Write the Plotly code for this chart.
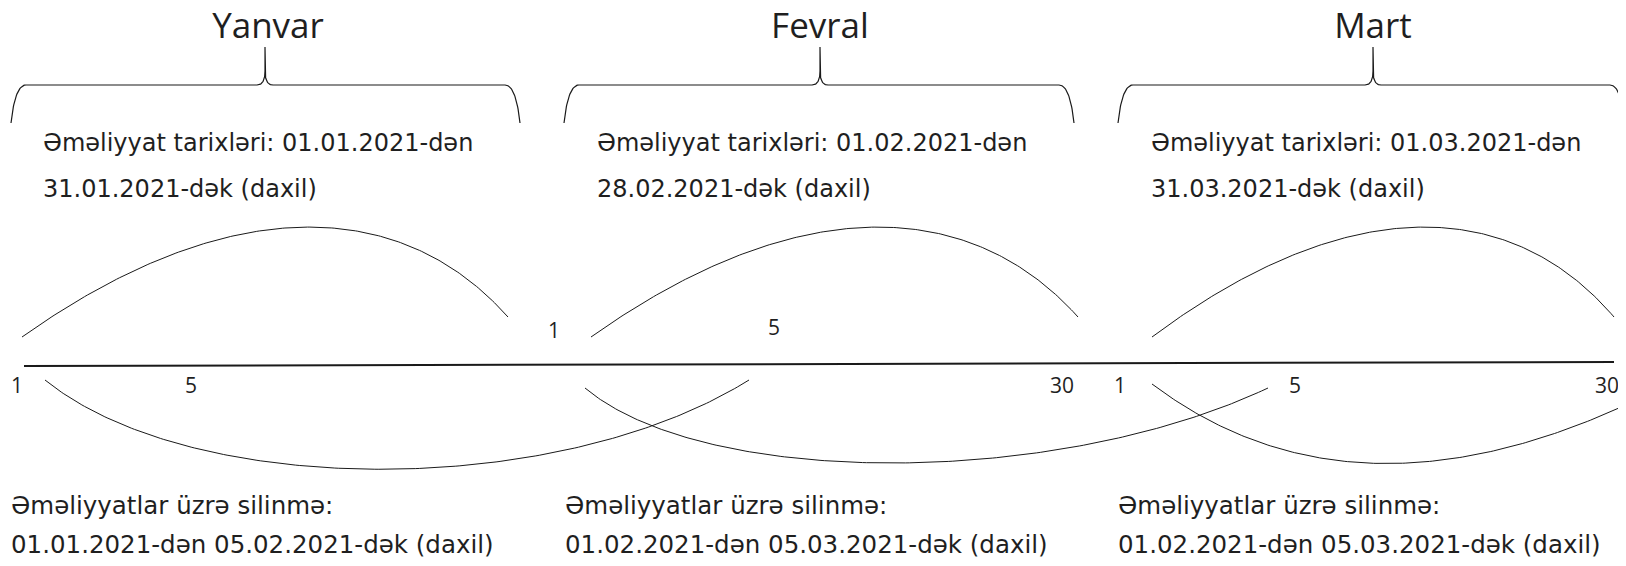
import numpy as np
import plotly.graph_objects as go

# ---------------- content (values / texts) ----------------
MONTHS = ["Yanvar", "Fevral", "Mart"]
OPERATION_LINE1 = [
    "Əməliyyat tarixləri: 01.01.2021-dən",
    "Əməliyyat tarixləri: 01.02.2021-dən",
    "Əməliyyat tarixləri: 01.03.2021-dən",
]
OPERATION_LINE2 = [
    "31.01.2021-dək (daxil)",
    "28.02.2021-dək (daxil)",
    "31.03.2021-dək (daxil)",
]
DELETION_LINE1 = ["Əməliyyatlar üzrə silinmə:"] * 3
DELETION_LINE2 = [
    "01.01.2021-dən 05.02.2021-dək (daxil)",
    "01.02.2021-dən 05.03.2021-dək (daxil)",
    "01.02.2021-dən 05.03.2021-dək (daxil)",
]
DAY_LABELS = ["1", "5", "1", "5", "30", "1", "5", "30"]

# ---------------- layout geometry (canvas pixel coordinates) ----------------
W, H = 1626, 566
PAGE_MARGIN = 8          # default <body> margin of the written page
TEXT_COLOR = "#1f1f1f"
LINE_COLOR = "#1a1a1a"

title_x = [268, 820, 1373]
title_y = 29
brace_left = [11, 564, 1118]
brace_right = [520, 1074, 1625]
brace_mid = [265, 820, 1373]
brace_top, brace_bottom, brace_tip = 85, 123, 47

op_text_x = [43, 597, 1151]
op_text_y = [145, 191]
del_text_x = [11, 565, 1118]
del_text_y = [508, 547]

day_x = [17, 191, 554, 774, 1062, 1120, 1295, 1607]
day_y = [388, 388, 333, 330, 388, 388, 388, 388]

timeline_x = [24, 1614]
timeline_y = [366, 362]

# cubic Bezier control points for the arcs: (x0,y0,x1,y1,x2,y2,x3,y3)
upper_arcs = [
    (22, 337, 222, 195, 398, 193, 508, 317),
    (591, 337, 791, 195, 967, 193, 1078, 317),
    (1152, 337, 1342, 195, 1508, 193, 1614, 317),
]
lower_arcs = [
    (45, 380, 192, 499, 559, 499, 749, 380),
    (585, 388, 704, 488, 1056, 488, 1268, 388),
    (1152, 384, 1294, 491, 1470, 491, 1680, 378),
]


def bezier(p, n=200):
    x0, y0, x1, y1, x2, y2, x3, y3 = p
    t = np.linspace(0, 1, n)
    a, b, c, d = (1 - t) ** 3, 3 * (1 - t) ** 2 * t, 3 * (1 - t) * t ** 2, t ** 3
    return a * x0 + b * x1 + c * x2 + d * x3, a * y0 + b * y1 + c * y2 + d * y3


def quad(p0, p1, p2, n=30):
    t = np.linspace(0, 1, n)
    x = (1 - t) ** 2 * p0[0] + 2 * (1 - t) * t * p1[0] + t ** 2 * p2[0]
    y = (1 - t) ** 2 * p0[1] + 2 * (1 - t) * t * p1[1] + t ** 2 * p2[1]
    return list(x), list(y)


def brace(L, R, C):
    xs, ys = [], []
    for seg in [
        quad((L, brace_bottom), (L + 4, brace_top), (L + 15, brace_top)),
        quad((C - 8, brace_top), (C, brace_top), (C, brace_top - 14)),
        ([C, C], [brace_top - 14, brace_tip]),
        quad((C, brace_tip), (C, brace_tip), (C, brace_top - 14)),
        quad((C, brace_top - 14), (C, brace_top), (C + 8, brace_top)),
        quad((R - 15, brace_top), (R - 4, brace_top), (R, brace_bottom)),
    ]:
        xs += list(seg[0])
        ys += list(seg[1])
    return xs, ys


fig = go.Figure()

# braces
for L, R, C in zip(brace_left, brace_right, brace_mid):
    bx, by = brace(L, R, C)
    fig.add_trace(go.Scatter(x=bx, y=by, mode="lines",
                             line=dict(color=LINE_COLOR, width=1.2),
                             hoverinfo="skip", showlegend=False))

# timeline
fig.add_trace(go.Scatter(x=timeline_x, y=timeline_y, mode="lines",
                         line=dict(color=LINE_COLOR, width=2),
                         hoverinfo="skip", showlegend=False))

# arcs
for p in upper_arcs + lower_arcs:
    ax, ay = bezier(p)
    fig.add_trace(go.Scatter(x=ax, y=ay, mode="lines",
                             line=dict(color=LINE_COLOR, width=1),
                             hoverinfo="skip", showlegend=False))

TITLE_FONT = "'Open Sans', 'Noto Sans', sans-serif"
BODY_FONT = "'DejaVu Sans', 'Open Sans', sans-serif"

# month titles
fig.add_trace(go.Scatter(x=title_x, y=[title_y] * 3, mode="text", text=MONTHS,
                         textposition="middle center", cliponaxis=False,
                         textfont=dict(family=TITLE_FONT, size=35, color=TEXT_COLOR),
                         hoverinfo="skip", showlegend=False))

# operation period texts
for lines, yy in ((OPERATION_LINE1, op_text_y[0]), (OPERATION_LINE2, op_text_y[1])):
    fig.add_trace(go.Scatter(x=op_text_x, y=[yy] * 3, mode="text", text=lines,
                             textposition="middle right", cliponaxis=False,
                             textfont=dict(family=BODY_FONT, size=24, color=TEXT_COLOR),
                             hoverinfo="skip", showlegend=False))

# deletion texts
for lines, yy in ((DELETION_LINE1, del_text_y[0]), (DELETION_LINE2, del_text_y[1])):
    fig.add_trace(go.Scatter(x=del_text_x, y=[yy] * 3, mode="text", text=lines,
                             textposition="middle right", cliponaxis=False,
                             textfont=dict(family=BODY_FONT, size=24.5, color=TEXT_COLOR),
                             hoverinfo="skip", showlegend=False))

# day labels
fig.add_trace(go.Scatter(x=day_x, y=day_y, mode="text", text=DAY_LABELS,
                         textposition="middle center", cliponaxis=False,
                         textfont=dict(family=TITLE_FONT, size=21, color=TEXT_COLOR),
                         hoverinfo="skip", showlegend=False))

fig.update_layout(
    width=W, height=H,
    margin=dict(l=0, r=0, t=0, b=0),
    paper_bgcolor="white", plot_bgcolor="white",
    xaxis=dict(range=[PAGE_MARGIN, W + PAGE_MARGIN], visible=False, fixedrange=True),
    yaxis=dict(range=[H + PAGE_MARGIN, PAGE_MARGIN], visible=False, fixedrange=True),
    showlegend=False,
)

fig.write_html("out.html", config={"displayModeBar": False})
